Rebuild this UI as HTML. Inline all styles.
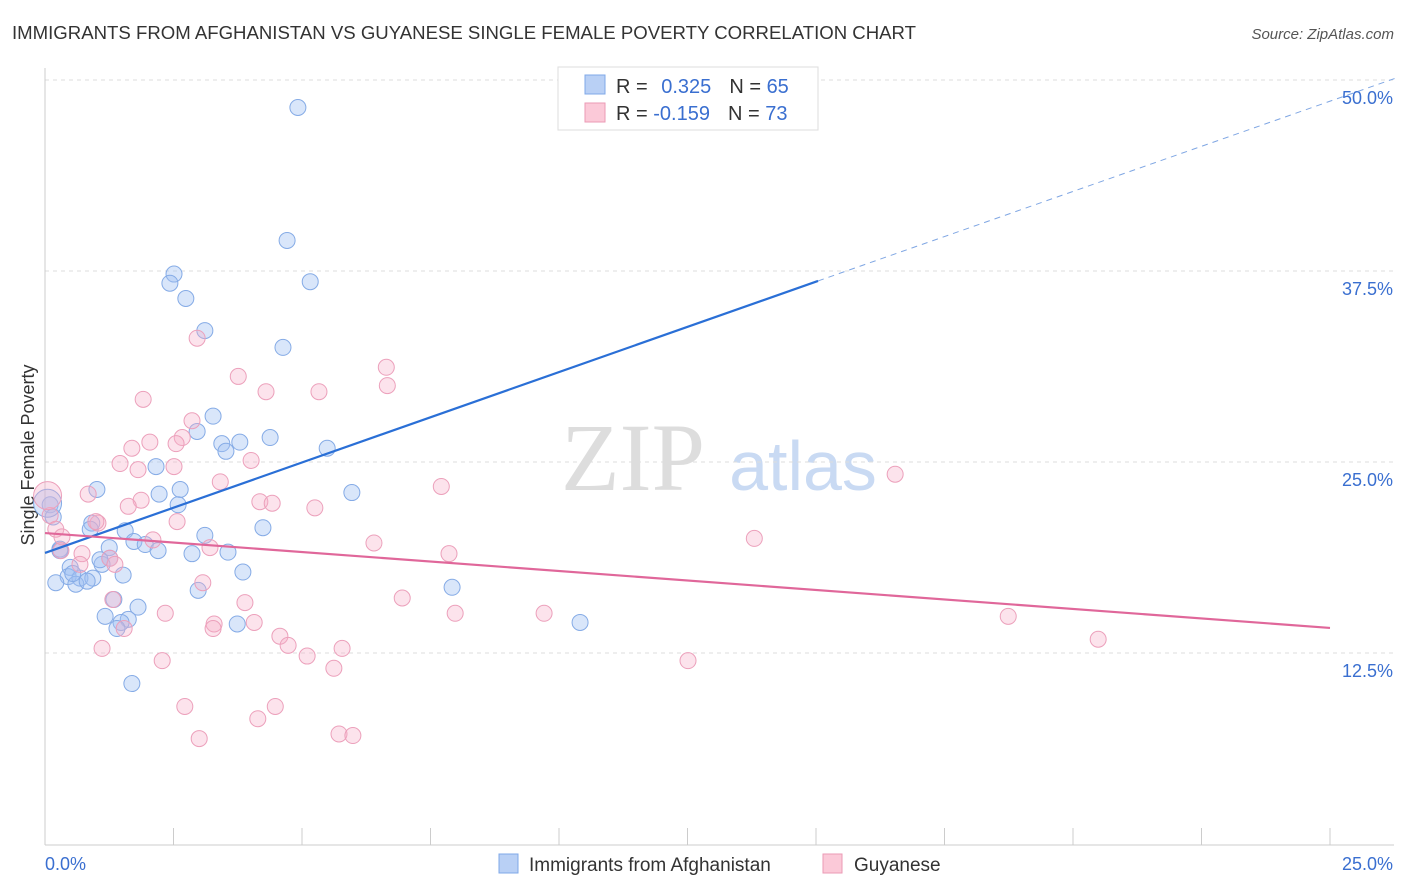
<!DOCTYPE html>
<html><head><meta charset="utf-8"><style>
body{margin:0;background:#fff;font-family:"Liberation Sans",sans-serif;}
svg{display:block}
</style></head><body>
<svg id="chart" width="1406" height="892">
<text x="12" y="39" font-size="18.6" fill="#333">IMMIGRANTS FROM AFGHANISTAN VS GUYANESE SINGLE FEMALE POVERTY CORRELATION CHART</text>
<text x="1394" y="39" font-size="15" fill="#555" font-style="italic" text-anchor="end">Source: ZipAtlas.com</text>
<text x="34" y="455" font-size="18" fill="#333" transform="rotate(-90 34 455)" text-anchor="middle">Single Female Poverty</text>
<g>
<text x="633" y="490" font-size="96" fill="#ddd" text-anchor="middle" font-family="Liberation Serif,serif">ZIP</text>
<text x="803" y="490" font-size="70" fill="#c9daf3" text-anchor="middle">atlas</text>
</g>
<g id="grid"></g><g id="axes"></g><g id="pts"></g><g id="lines"></g>
<g>
<rect x="558" y="67" width="260" height="63" fill="#fff" stroke="#ddd"/>
<rect x="585" y="75" width="20" height="19" fill="#b9d0f5" stroke="#7fa8e8"/>
<rect x="585" y="103" width="20" height="19" fill="#fbc9d8" stroke="#eb9ab5"/>
<text x="616" y="93" font-size="20" fill="#333">R = <tspan fill="#3a6fd0" dx="8">0.325</tspan><tspan dx="18" fill="#333">N = </tspan><tspan fill="#3a6fd0">65</tspan></text>
<text x="616" y="120" font-size="20" fill="#333">R = <tspan fill="#3a6fd0">-0.159</tspan><tspan dx="18" fill="#333">N = </tspan><tspan fill="#3a6fd0">73</tspan></text>
</g>
<g>
<rect x="499" y="854" width="19" height="19" fill="#b9d0f5" stroke="#7fa8e8"/>
<text x="529" y="871" font-size="19" fill="#333">Immigrants from Afghanistan</text>
<rect x="823" y="854" width="19" height="19" fill="#fbc9d8" stroke="#eb9ab5"/>
<text x="854" y="871" font-size="19" fill="#333">Guyanese</text>
</g>
</svg>
<script>
const yTicks=[12.5,25,37.5,50];
const yTickLabels=["12.5%","25.0%","37.5%","50.0%"];
const xTicks=[0,2.5,5,7.5,10,12.5,15,17.5,20,22.5,25];
const blueX=[4.92,4.71,2.51,2.43,2.74,5.16,3.11,4.63,3.27,2.96,4.38,3.44,3.79,3.52,5.49,2.16,1.01,2.63,2.22,5.97,2.59,0.10,0.16,0.91,1.56,4.24,3.11,0.88,1.73,1.95,2.20,1.25,2.86,3.56,0.29,1.26,1.11,0.49,3.85,1.52,0.45,0.68,0.93,0.21,0.60,0.82,2.98,7.92,1.34,1.81,1.17,1.62,1.48,1.40,3.74,10.41,1.69,0.29,0.54,1.07,0.05];
const blueY=[48.2,39.5,37.3,36.7,35.7,36.8,33.6,32.5,28.0,27.0,26.6,26.2,26.3,25.7,25.9,24.7,23.2,23.2,22.9,23.0,22.2,22.2,21.4,21.0,20.5,20.7,20.2,20.6,19.8,19.6,19.2,19.4,19.0,19.1,19.3,18.7,18.3,18.1,17.8,17.6,17.5,17.4,17.4,17.1,17.0,17.2,16.6,16.8,16.0,15.5,14.9,14.7,14.5,14.1,14.4,14.5,10.5,19.2,17.7,18.6,22.3];
const pinkX=[6.64,2.96,3.76,1.91,4.30,5.33,6.66,2.86,2.67,2.04,1.69,2.55,1.46,1.81,2.51,4.01,3.41,7.71,16.54,0.84,1.87,1.62,4.18,4.42,5.25,0.10,1.03,2.57,0.21,13.80,6.40,7.86,2.10,3.21,0.31,0.72,1.26,1.36,0.68,3.07,6.95,3.89,1.32,2.34,7.98,9.71,18.74,3.29,3.27,4.07,1.54,4.57,4.73,1.11,5.78,5.10,2.28,12.51,5.62,20.49,2.72,4.48,4.14,5.72,5.99,3.00,0.99,0.33,0.05];
const pinkY=[31.2,33.1,30.6,29.1,29.6,29.6,30.0,27.7,26.6,26.3,25.9,26.2,24.9,24.5,24.7,25.1,23.7,23.4,24.2,22.9,22.5,22.1,22.4,22.3,22.0,21.5,21.0,21.1,20.6,20.0,19.7,19.0,19.9,19.4,19.2,19.0,18.7,18.3,18.3,17.1,16.1,15.8,16.0,15.1,15.1,15.1,14.9,14.4,14.1,14.5,14.1,13.6,13.0,12.8,12.8,12.3,12.0,12.0,11.5,13.4,9.0,9.0,8.2,7.2,7.1,6.9,21.1,20.1,22.8];
const blueTrend=[19.05,36.85,50.1];
const blueTrendX=[0,15.04,26.26];
const pinkTrend=[20.35,14.14];
const NS="http://www.w3.org/2000/svg";
const X=v=>45+v/25*1285, Y=v=>844-v/12.5*191;
function mk(t,a,p){const e=document.createElementNS(NS,t);for(const k in a)e.setAttribute(k,a[k]);p.appendChild(e);return e;}
const grid=document.getElementById('grid'),axes=document.getElementById('axes');
yTicks.forEach((t,i)=>{
 const l=mk('line',{x1:45,x2:1394,y1:Y(t),y2:Y(t),stroke:'#ddd','stroke-dasharray':'4,4'},grid);
 
 
 const tx=mk('text',{x:1393,y:Y(t)+24,'font-size':18,fill:'#3a6fd0','text-anchor':'end'},axes);
 tx.textContent=yTickLabels[i];
 
 
});
mk('line',{x1:45,x2:45,y1:68,y2:845,stroke:'#ccc'},axes);
mk('line',{x1:45,x2:1394,y1:845,y2:845,stroke:'#ccc'},axes);
xTicks.forEach(t=>{const l=mk('line',{x1:X(t),x2:X(t),y1:828,y2:845,stroke:'#ccc'},axes);
 
 });
let a=mk('text',{x:45,y:870,'font-size':18,fill:'#3a6fd0'},axes);a.textContent='0.0%';


a=mk('text',{x:1393,y:870,'font-size':18,fill:'#3a6fd0','text-anchor':'end'},axes);a.textContent='25.0%';


const pts=document.getElementById('pts');
blueX.forEach((x,i)=>{const r=i==blueX.length-1?14:8;const c=mk('circle',{cx:X(x),cy:Y(blueY[i]),r:r,fill:'rgba(160,192,242,0.4)',stroke:'#85abe6','stroke-width':1},pts);
 
 });
pinkX.forEach((x,i)=>{const r=i==pinkX.length-1?14:8;const c=mk('circle',{cx:X(x),cy:Y(pinkY[i]),r:r,fill:'rgba(247,175,200,0.35)',stroke:'#eca0bb','stroke-width':1},pts);
 
 });
const lines=document.getElementById('lines');
let ln=mk('line',{x1:X(blueTrendX[0]),y1:Y(blueTrend[0]),x2:X(blueTrendX[1]),y2:Y(blueTrend[1]),stroke:'#2a6fd6','stroke-width':2.2},lines);


ln=mk('line',{x1:X(blueTrendX[1]),y1:Y(blueTrend[1]),x2:X(blueTrendX[2]),y2:Y(blueTrend[2]),stroke:'#7fa6e3','stroke-width':1,'stroke-dasharray':'6,5'},lines);


ln=mk('line',{x1:X(0),y1:Y(pinkTrend[0]),x2:X(25),y2:Y(pinkTrend[1]),stroke:'#e0679a','stroke-width':2.2},lines);


</script>
</body></html>
